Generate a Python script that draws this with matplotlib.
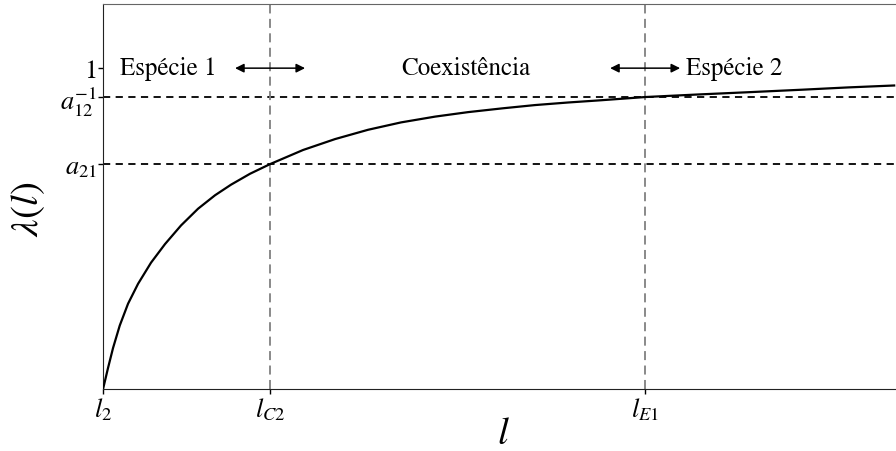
import matplotlib
matplotlib.use("Agg")
import matplotlib.pyplot as plt

plt.rcParams['mathtext.fontset'] = 'stix'
plt.rcParams['font.family'] = ['STIXGeneral', 'DejaVu Serif']

# curve lambda(l)
l_vals = [0.0, 0.05, 0.10, 0.167, 0.25, 0.35, 0.48, 0.62, 0.78, 0.95, 1.12, 1.28,
          1.47, 1.67, 2.00, 2.32, 2.65, 2.98, 3.32, 3.65, 4.00, 4.32, 4.65,
          4.98, 5.42, 5.95, 6.45, 7.00, 7.45, 7.91]
lam_vals = [0.0, 0.066, 0.128, 0.198, 0.266, 0.328, 0.394, 0.452, 0.510, 0.562,
            0.604, 0.637, 0.671, 0.701, 0.745, 0.779, 0.808, 0.831, 0.849,
            0.863, 0.875, 0.885, 0.893, 0.900, 0.910, 0.918, 0.925, 0.933,
            0.940, 0.946]

l_C2 = 1.67
l_E1 = 5.42
a21 = 0.70
a12_inv = 0.91
y_one = 1.0

x_ticks = [0.0, l_C2, l_E1]
x_ticklabels = [r'$l_2$', r'$l_{C2}$', r'$l_{E1}$']
y_ticks = [a21, a12_inv, y_one]
y_ticklabels = [r'$a_{21}$', r'$a_{12}^{-1}$', r'$1$']

region_labels = ['Espécie 1', 'Coexistência', 'Espécie 2']
region_x = [0.65, 3.63, 6.31]

fig = plt.figure(figsize=(8.96, 4.52), dpi=100)
ax = fig.add_axes([0.115, 0.137, 0.893, 0.852])
ax.set_xlim(0, 8)
ax.set_ylim(0, 1.2)

ax.plot(l_vals, lam_vals, color='black', lw=1.6, zorder=3)

for yv in (a21, a12_inv):
    ax.axhline(yv, color='black', lw=1.3, ls=(0, (4, 3)), zorder=2)
for xv in (l_C2, l_E1):
    ax.axvline(xv, color='#808080', lw=1.3, ls=(0, (5, 3)), zorder=2)

for xv in (l_C2, l_E1):
    ax.annotate('', xy=(xv - 0.35, y_one), xytext=(xv + 0.35, y_one),
                arrowprops=dict(arrowstyle='<|-|>', color='black', lw=1.1,
                                mutation_scale=13, shrinkA=0, shrinkB=0))

for txt, xv in zip(region_labels, region_x):
    ax.text(xv, y_one, txt, ha='center', va='center', fontsize=18)

ax.set_xticks(x_ticks)
ax.set_xticklabels(x_ticklabels, fontsize=19)
ax.set_yticks(y_ticks)
ax.set_yticklabels(y_ticklabels, fontsize=19)
ax.tick_params(direction='out', length=3.5, width=1, pad=1)

ax.set_xlabel(r'$l$', fontsize=28, labelpad=-4)
ax.set_ylabel(r'$\lambda(l)$', fontsize=28)
ax.yaxis.set_label_coords(-0.07, 0.47)

for s in ('left', 'bottom'):
    ax.spines[s].set_color('#222222')
ax.spines['top'].set_color('#666666')
ax.spines['right'].set_visible(False)

fig.savefig('out.png', dpi=100)
